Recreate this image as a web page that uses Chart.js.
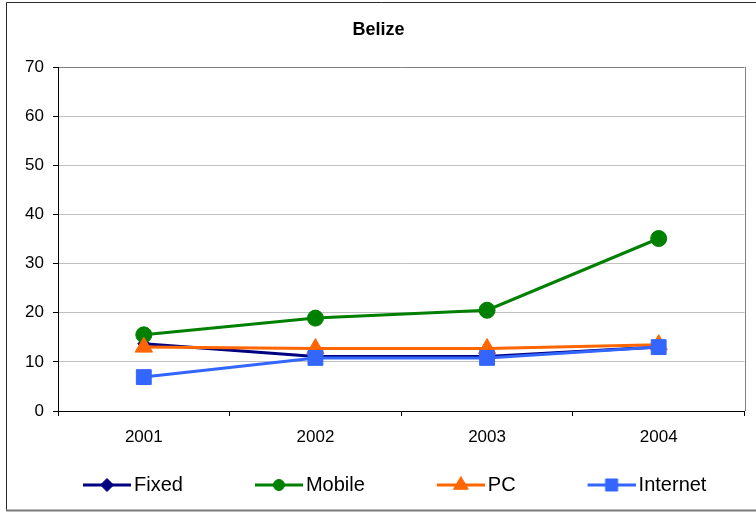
<!DOCTYPE html>
<html>
<head>
<meta charset="utf-8">
<script src="https://cdn.jsdelivr.net/npm/chart.js@4/dist/chart.umd.min.js"></script>
<style>
  html, body { margin: 0; padding: 0; background: #fff; }
  #c { display: block; }
</style>
</head>
<body>
<canvas id="c" width="756" height="512"></canvas>
<script>
const chartTitle = 'Belize';
const categories = ['2001', '2002', '2003', '2004'];
const seriesNames = ['Fixed', 'Mobile', 'PC', 'Internet'];
const fixedValues = [13.7, 11.1, 11.1, 13.0];
const mobileValues = [15.5, 18.9, 20.5, 35.1];
const pcValues = [13.0, 12.7, 12.7, 13.5];
const internetValues = [6.9, 10.8, 10.8, 13.0];
const yTickValues = [0, 10, 20, 30, 40, 50, 60, 70];

const FONT = "'Liberation Sans', Arial, sans-serif";

const styles = [
  { color: '#000080', pointStyle: 'rectRot',  radius: 6,    legendRadius: 6.5, order: 4 },
  { color: '#008000', pointStyle: 'circle',   radius: 8,    legendRadius: 5.5, order: 3 },
  { color: '#FF6600', pointStyle: 'triangle', radius: 10,   legendRadius: 8.5, order: 2 },
  { color: '#3366FF', pointStyle: 'rect',     radius: 10.5, legendRadius: 8.5, order: 1 }
];
const seriesValues = [fixedValues, mobileValues, pcValues, internetValues];

const LEGEND_FONT = 20;
const LEGEND_PAD = 20;
const LEGEND_BOX = 93;
const LEGEND_LINE = 48;

function legendImage(st) {
  const w = LEGEND_BOX + 14, h = 26;
  const cv = document.createElement('canvas');
  cv.width = w; cv.height = h;
  const ctx = cv.getContext('2d');
  const x1 = w - LEGEND_LINE, x2 = w;
  ctx.strokeStyle = st.color;
  ctx.lineWidth = 3;
  ctx.beginPath();
  ctx.moveTo(x1, h / 2);
  ctx.lineTo(x2, h / 2);
  ctx.stroke();
  ctx.fillStyle = st.color;
  ctx.strokeStyle = st.color;
  ctx.lineWidth = 1;
  Chart.helpers.drawPoint(ctx, { pointStyle: st.pointStyle, radius: st.legendRadius, rotation: 0, borderWidth: 1 }, (x1 + x2) / 2, h / 2);
  return cv;
}

const datasets = seriesNames.map((name, i) => ({
  label: name,
  data: seriesValues[i],
  borderColor: styles[i].color,
  backgroundColor: styles[i].color,
  borderWidth: 3,
  pointStyle: styles[i].pointStyle,
  pointRadius: styles[i].radius,
  pointHoverRadius: styles[i].radius,
  pointBackgroundColor: styles[i].color,
  pointBorderColor: styles[i].color,
  pointBorderWidth: 1,
  tension: 0,
  order: styles[i].order
}));

const framePlugin = {
  id: 'frame',
  beforeDraw(chart) {
    const ctx = chart.ctx;
    ctx.save();
    ctx.fillStyle = '#fff';
    ctx.fillRect(0, 0, chart.width, chart.height);
    ctx.restore();
  },
  afterDraw(chart) {
    const ctx = chart.ctx;
    const a = chart.chartArea;
    ctx.save();
    ctx.strokeStyle = '#808080';
    ctx.lineWidth = 1;
    ctx.beginPath();
    ctx.moveTo(Math.round(a.right) + 0.5, a.top);
    ctx.lineTo(Math.round(a.right) + 0.5, a.bottom);
    ctx.stroke();
    ctx.strokeStyle = '#2a2a2a';
    ctx.beginPath();
    ctx.moveTo(6.5, 511);
    ctx.lineTo(6.5, 2.5);
    ctx.lineTo(756, 2.5);
    ctx.stroke();
    ctx.strokeStyle = '#7a7a7a';
    ctx.lineWidth = 2;
    ctx.beginPath();
    ctx.moveTo(6, 510.5);
    ctx.lineTo(756, 510.5);
    ctx.stroke();
    ctx.restore();
  }
};

new Chart(document.getElementById('c'), {
  type: 'line',
  data: { labels: categories, datasets },
  plugins: [framePlugin],
  options: {
    responsive: false,
    animation: false,
    devicePixelRatio: 1,
    layout: { padding: { left: 11, right: 10, top: 0, bottom: 7 } },
    plugins: {
      tooltip: { enabled: false },
      title: {
        display: true,
        text: chartTitle,
        color: '#000',
        font: { family: FONT, size: 18, weight: 'bold', lineHeight: 1.2 },
        padding: { top: 18.9, bottom: 26.5 }
      },
      legend: {
        display: true,
        position: 'bottom',
        align: 'start',
        labels: {
          usePointStyle: true,
          pointStyleWidth: LEGEND_BOX,
          padding: LEGEND_PAD,
          color: '#000',
          font: { family: FONT, size: LEGEND_FONT },
          generateLabels(chart) {
            return chart.data.datasets.map((ds, i) => ({
              text: ds.label,
              pointStyle: legendImage(styles[i]),
              fillStyle: styles[i].color,
              strokeStyle: styles[i].color,
              lineWidth: 0,
              hidden: false,
              datasetIndex: i,
              fontColor: '#000'
            }));
          }
        }
      }
    },
    scales: {
      x: {
        type: 'category',
        offset: true,
        afterFit(scale) { scale.height = 44; },
        grid: { offset: true, drawOnChartArea: false, drawTicks: true, tickLength: 5, tickColor: '#000', color: '#000' },
        border: { display: true, color: '#000', width: 1 },
        ticks: { color: '#000', padding: 11, font: { family: FONT, size: 17 }, maxRotation: 0 }
      },
      y: {
        min: yTickValues[0],
        max: yTickValues[yTickValues.length - 1],
        afterFit(scale) { scale.width = 47; },
        afterBuildTicks(scale) { scale.ticks = yTickValues.map(v => ({ value: v })); },
        grid: {
          color: (c) => (c.tick && c.tick.value === 70 ? '#808080' : '#c0c0c0'),
          tickColor: '#000',
          tickLength: 5,
          lineWidth: 1
        },
        border: { display: true, color: '#000', width: 1 },
        ticks: { color: '#000', padding: 9, font: { family: FONT, size: 17 } }
      }
    }
  }
});
</script>
</body>
</html>
